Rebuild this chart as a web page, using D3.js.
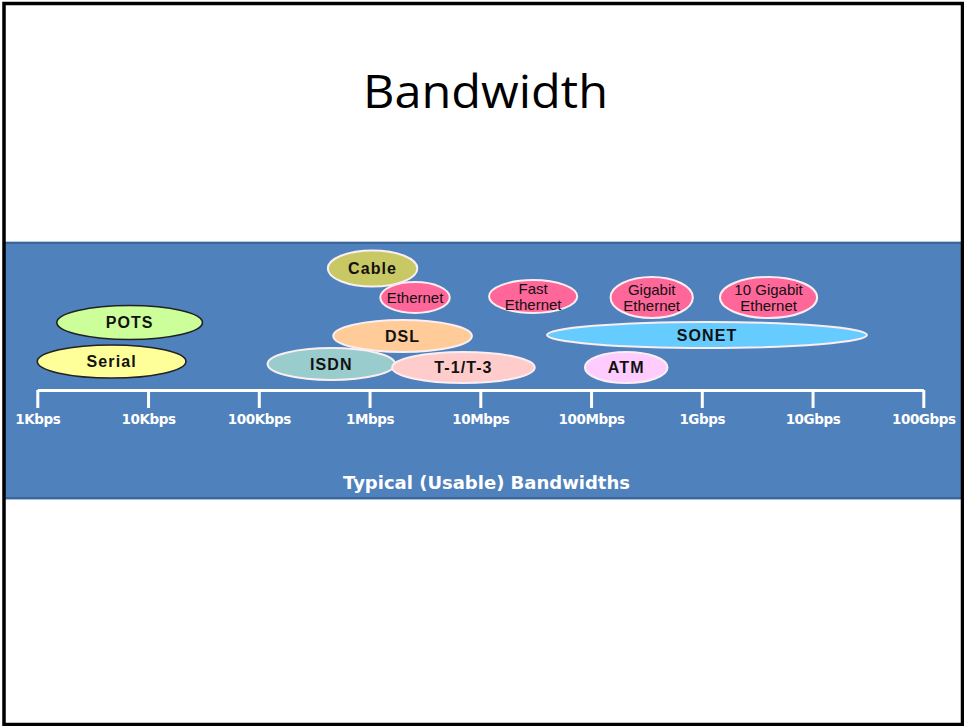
<!DOCTYPE html>
<html>
<body style="margin:0">
<meta charset="UTF-8">
<title>Bandwidth</title>
<style>
    body { margin: 0; background: #fff; }
    .tech-label { fill: #111; font-family: "Liberation Sans", Arial, sans-serif; }
</style>
<div id="chart"></div>
<script src="https://d3js.org/d3.v7.min.js"></script>
<script>

    // technologies, drawn in this order (later ones sit on top)
    var techNames = ["POTS", "Serial", "Cable", "Ethernet", "DSL", "ISDN", "T-1/T-3",
                     "Fast\nEthernet", "Gigabit\nEthernet", "10 Gigabit\nEthernet", "SONET", "ATM"];
    // usable bandwidth range, bits per second
    var lowBps  = [1.5e3, 1.0e3, 4.2e5, 1.25e6, 4.7e5, 1.2e5, 1.6e6, 1.2e7, 1.5e8, 1.46e9, 4.0e7, 8.8e7];
    var highBps = [3.1e4, 2.2e4, 2.7e6, 5.3e6, 8.4e6, 1.7e6, 3.1e7, 7.5e7, 8.3e8, 1.1e10, 3.1e10, 4.9e8];
    // stacking lane (0 = lowest row above the axis)
    var lanes   = [1.82, 0.26, 3.98, 2.82, 1.28, 0.16, 0.02, 2.86, 2.82, 2.82, 1.32, 0.02];

    var tickValues = [1e3, 1e4, 1e5, 1e6, 1e7, 1e8, 1e9, 1e10, 1e11];
    var tickLabels = ["1Kbps", "10Kbps", "100Kbps", "1Mbps", "10Mbps", "100Mbps", "1Gbps", "10Gbps", "100Gbps"];
    var axisTitle = "Typical (Usable) Bandwidths";

    // look of each bubble
    var fills = {
        "POTS": "#ccff99", "Serial": "#ffff99", "Cable": "#c8c864", "Ethernet": "#ff6699",
        "DSL": "#ffcc99", "ISDN": "#99cccc", "T-1/T-3": "#ffcccc", "Fast\nEthernet": "#ff6699",
        "Gigabit\nEthernet": "#ff6699", "10 Gigabit\nEthernet": "#ff6699", "SONET": "#66ccff", "ATM": "#ffccff"
    };
    var radiusY = {
        "POTS": 17, "Serial": 16.5, "Cable": 18, "Ethernet": 15.5, "DSL": 16, "ISDN": 16,
        "T-1/T-3": 15.5, "Fast\nEthernet": 16.5, "Gigabit\nEthernet": 20.5,
        "10 Gigabit\nEthernet": 20.5, "SONET": 13, "ATM": 15.5
    };
    var darkOutline = { "POTS": true, "Serial": true };

    var width = 964,
        height = 726;

    var svg = d3.select("#chart")
        .append("svg")
        .attr("width", width)
        .attr("height", height);

    // title
    svg.append("text")
        .attr("x", 485.5)
        .attr("y", 108)
        .attr("text-anchor", "middle")
        .attr("textLength", 245)
        .attr("lengthAdjust", "spacingAndGlyphs")
        .style("font-family", "'Open Sans', 'Noto Sans', sans-serif")
        .style("font-size", "46px")
        .style("fill", "#000")
        .text("Bandwidth");

    // blue band
    svg.append("rect")
        .attr("x", 5).attr("y", 241)
        .attr("width", 958).attr("height", 259)
        .style("fill", "#4f81bd");
    svg.append("rect")
        .attr("x", 5).attr("y", 241)
        .attr("width", 958).attr("height", 1)
        .style("fill", "#b9cce4");
    svg.append("rect")
        .attr("x", 5).attr("y", 242)
        .attr("width", 958).attr("height", 2)
        .style("fill", "#3b6699");
    svg.append("rect")
        .attr("x", 5).attr("y", 497)
        .attr("width", 958).attr("height", 2)
        .style("fill", "#3b6699");
    svg.append("rect")
        .attr("x", 5).attr("y", 499)
        .attr("width", 958).attr("height", 1)
        .style("fill", "#a9bfdb");

    var x = d3.scaleLog()
        .domain([1e3, 1e11])
        .range([37.3, 923.3]);

    var y = d3.scaleLinear()
        .domain([0, 4])
        .range([368, 268]);

    var techs = techNames.map(function(name, i) {
        return { name: name, lo: lowBps[i], hi: highBps[i], lane: lanes[i] };
    });

    // axis
    var axis = d3.axisBottom(x)
        .tickValues(tickValues)
        .tickFormat(function(d, i) { return tickLabels[i]; })
        .tickSize(18)
        .tickSizeOuter(0)
        .tickPadding(6);

    var gAxis = svg.append("g")
        .attr("transform", "translate(0,390)")
        .call(axis);

    gAxis.select(".domain")
        .style("stroke", "#fff")
        .style("stroke-width", 3);
    gAxis.selectAll(".tick line")
        .style("stroke", "#fff")
        .style("stroke-width", 3);
    gAxis.selectAll(".tick text")
        .style("fill", "#fff")
        .style("font-family", "'DejaVu Sans', sans-serif")
        .style("font-weight", "bold")
        .style("font-size", "13.5px")
        .style("letter-spacing", "-0.4px");

    svg.append("text")
        .attr("x", 486.5)
        .attr("y", 489)
        .attr("text-anchor", "middle")
        .attr("textLength", 287)
        .attr("lengthAdjust", "spacingAndGlyphs")
        .style("fill", "#fff")
        .style("font-family", "'DejaVu Sans', sans-serif")
        .style("font-weight", "bold")
        .style("font-size", "17.5px")
        .text(axisTitle);

    // bubbles
    var bubbles = svg.selectAll(".tech")
        .data(techs)
        .enter().append("g")
        .attr("class", "tech");

    bubbles.append("ellipse")
        .attr("cx", function(d) { return (x(d.lo) + x(d.hi)) / 2; })
        .attr("cy", function(d) { return y(d.lane); })
        .attr("rx", function(d) { return (x(d.hi) - x(d.lo)) / 2; })
        .attr("ry", function(d) { return radiusY[d.name]; })
        .style("fill", function(d) { return fills[d.name]; })
        .style("stroke", function(d) { return darkOutline[d.name] ? "#222" : "#fbeef0"; })
        .style("stroke-width", function(d) { return darkOutline[d.name] ? 1.6 : 2; });

    bubbles.each(function(d) {
        var lines = d.name.split("\n");
        var isEthernet = /Ethernet/.test(d.name);
        var cx = (x(d.lo) + x(d.hi)) / 2,
            cy = y(d.lane);
        var t = d3.select(this).append("text")
            .attr("class", "tech-label")
            .attr("text-anchor", "middle")
            .style("font-size", isEthernet ? "15px" : "16px")
            .style("font-weight", isEthernet ? "normal" : "bold")
            .style("letter-spacing", isEthernet ? "0px" : "1.1px");
        lines.forEach(function(line, i) {
            var base = lines.length === 1 ? cy + 5.8 : cy - 3 + i * 16;
            t.append("tspan")
                .attr("x", cx)
                .attr("y", base)
                .text(line);
        });
    });

    // slide frame
    svg.append("rect")
        .attr("x", 4).attr("y", 3.5)
        .attr("width", 958.5).attr("height", 721)
        .style("fill", "none")
        .style("stroke", "#000")
        .style("stroke-width", 3.5);

</script>
</body>
</html>
